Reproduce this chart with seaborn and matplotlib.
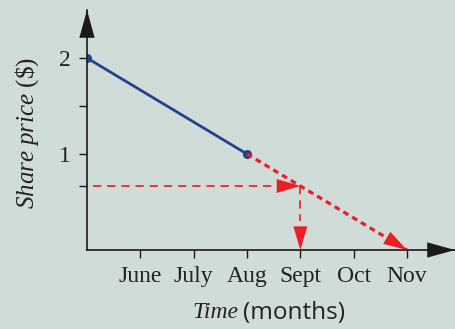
import numpy as np
import pandas as pd
import matplotlib
matplotlib.use("Agg")
import matplotlib.pyplot as plt
import seaborn as sns

# ---- data ----
month_labels = ["June", "July", "Aug", "Sept", "Oct", "Nov"]
month_ticks = [1, 2, 3, 4, 5, 6]          # May = 0
actual_month = [0, 3]
actual_price = [2, 1]
trend_month = [3, 6]
trend_price = [1, 0]
sept_month = 4
sept_price = 2 / 3
y_major = [1, 2]
y_minor = [2 / 3, 1.5]

BG = "#cfdcd8"
BLUE = "#22408f"
RED = "#ee1c25"
AXC = "#1a1a1a"

sns.set_style("ticks")
plt.rcParams["font.family"] = ["Liberation Serif", "DejaVu Serif"]
plt.rcParams["mathtext.fontset"] = "custom"
plt.rcParams["mathtext.it"] = "Liberation Serif:italic"
plt.rcParams["mathtext.rm"] = "Liberation Serif"

fig = plt.figure(figsize=(4.56, 3.29), dpi=100, facecolor=BG)
ax = fig.add_axes([87 / 456, 1 - 250 / 329, 368 / 456, 240 / 329])
ax.set_facecolor(BG)
ax.set_xlim(0, 6.9)
ax.set_ylim(0, 2.5)

df = pd.DataFrame({"month": actual_month, "price": actual_price})
sns.lineplot(data=df, x="month", y="price", color=BLUE, lw=2.0, ax=ax,
             marker="o", markersize=6.5, markeredgewidth=0)

# dotted trend line towards Nov
ax.plot(trend_month, trend_price, color=RED, lw=2.3, dashes=(1.8, 1.4),
        dash_capstyle="butt")
# dashed read-off lines
ax.plot([0.12, sept_month - 0.3], [sept_price, sept_price], color=RED, lw=1.2,
        dashes=(5, 3.5))
ax.plot([sept_month, sept_month], [sept_price, 0.3], color=RED, lw=1.2,
        dashes=(5, 3.5))

def head(xy, xytext, color, hl=1.7, hw=0.5):
    ax.annotate("", xy=xy, xytext=xytext, annotation_clip=False,
                arrowprops=dict(arrowstyle=f"-|>,head_length={hl},head_width={hw}",
                                color=color, lw=0, shrinkA=0, shrinkB=0))

head((sept_month, sept_price), (sept_month - 0.6, sept_price), RED)
head((sept_month, 0), (sept_month, 0.4), RED)
d = np.array([trend_month[1] - trend_month[0], trend_price[1] - trend_price[0]])
head((trend_month[1], trend_price[1]),
     (trend_month[1] - d[0] * 0.2, trend_price[1] - d[1] * 0.2), RED)

# axes with arrow ends
for s in ["top", "right"]:
    ax.spines[s].set_visible(False)
for s in ["left", "bottom"]:
    ax.spines[s].set_color(AXC)
    ax.spines[s].set_linewidth(1.2)
head((6.9, 0), (6.3, 0), AXC, hl=2.0, hw=0.55)
head((0, 2.5), (0, 2.1), AXC, hl=2.0, hw=0.55)

ax.set_xticks(month_ticks)
ax.set_xticklabels(month_labels, fontsize=17)
ax.set_yticks(y_major)
ax.set_yticklabels([str(v) for v in y_major], fontsize=17)
ax.set_yticks(y_minor, minor=True)
ax.tick_params(axis="both", which="both", direction="out", length=5.5,
               width=1.0, color=AXC, labelcolor="#222222")
ax.tick_params(axis="y", pad=6)
ax.tick_params(axis="x", pad=6)
ax.set_xlabel("")
ax.set_ylabel("")

# axis titles
fig.text(27 / 456, 1 - 133 / 329, r"$\mathit{Share\ price}$ (\$)", rotation=90,
         ha="center", va="center", fontsize=18, color="#222222")
fig.text(238 / 456, 1 - 313 / 329, "Time", ha="right", va="center",
         fontsize=17, style="italic", color="#222222")
fig.text(243 / 456, 1 - 313 / 329, "(months)", ha="left", va="center",
         fontsize=17.5, family="Open Sans", color="#222222")

fig.savefig("out.png", dpi=100, facecolor=BG)
